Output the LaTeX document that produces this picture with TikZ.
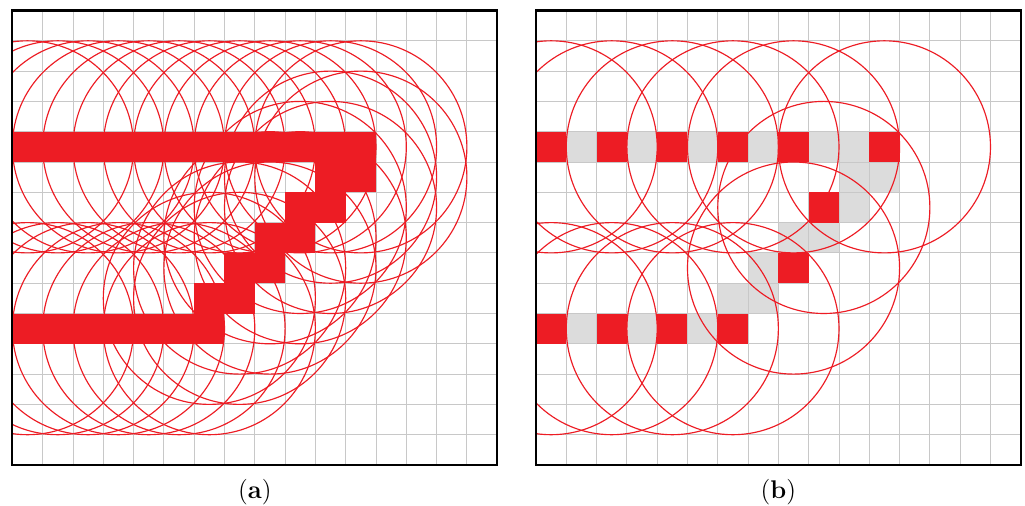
\documentclass[tikz,border=0pt]{standalone}
\usepackage{tikz}
\definecolor{mapred}{HTML}{ED1C24}
\definecolor{mapgray}{HTML}{DCDCDC}
\definecolor{mapgrid}{HTML}{C8C8C8}

% cells as column/row, row 0 is the top row
\newcommand{\shapecells}{0/4,1/4,2/4,3/4,4/4,5/4,6/4,7/4,8/4,9/4,10/4,11/4,%
  10/5,11/5,9/6,10/6,8/7,9/7,7/8,8/8,6/9,7/9,%
  0/10,1/10,2/10,3/10,4/10,5/10,6/10}
\newcommand{\keptcells}{0/4,2/4,4/4,6/4,8/4,11/4,9/6,8/8,0/10,2/10,4/10,6/10}

\begin{document}
\begin{tikzpicture}[
    x=0.6cm, y=0.6cm,
    hit/.style={fill=mapred},
    skip/.style={fill=mapgray},
    ring/.style={draw=mapred, line width=0.65pt},
    gridline/.style={draw=mapgrid, line width=0.55pt, step=1},
    frame/.style={draw=black, line width=1.2pt},
    caption/.style={font=\Large},
  ]
  \useasboundingbox (-0.409,-1.320) rectangle (33.419,15.347);

  % (a) every cell with its circle
  \begin{scope}
    \fill[white] (0,0) rectangle (16,15);
    \draw[gridline] (0,0) grid (16,15);
    \foreach \c/\r in \shapecells
      \fill[hit] (\c,14-\r) rectangle ++(1,1);
    \begin{scope}
      \clip (0,0) rectangle (16,15);
      \foreach \c/\r in \shapecells
        \draw[ring] (\c+0.5,14.5-\r) circle[radius=3.5];
    \end{scope}
    \draw[frame] (0,0) rectangle (16,15);
    \node[caption] (capa) at (8,-0.89) {(\textbf{a})};
  \end{scope}

  % (b) only the kept cells
  \begin{scope}[shift={(17.28,0)}]
    \fill[white] (0,0) rectangle (16,15);
    \foreach \c/\r in \shapecells
      \fill[skip] (\c,14-\r) rectangle ++(1,1);
    \draw[gridline] (0,0) grid (16,15);
    \foreach \c/\r in \keptcells
      \fill[hit] (\c,14-\r) rectangle ++(1,1);
    \begin{scope}
      \clip (0,0) rectangle (16,15);
      \foreach \c/\r in \keptcells
        \draw[ring] (\c+0.5,14.5-\r) circle[radius=3.5];
    \end{scope}
    \draw[frame] (0,0) rectangle (16,15);
    \node[caption] (capb) at (8,-0.89) {(\textbf{b})};
  \end{scope}
\end{tikzpicture}
\end{document}
